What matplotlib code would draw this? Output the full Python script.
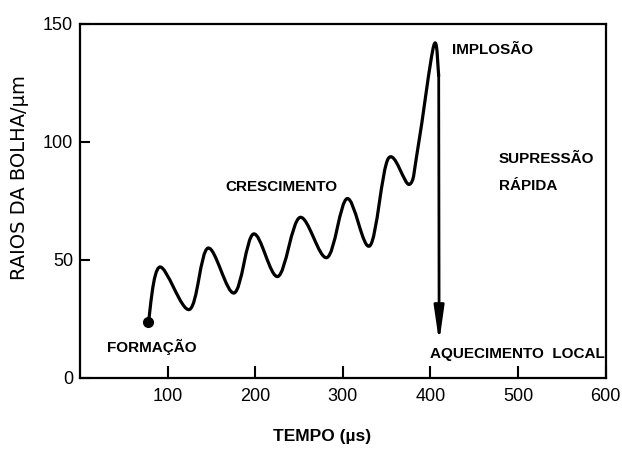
import numpy as np
import matplotlib
matplotlib.use("Agg")
import matplotlib.pyplot as plt
from matplotlib.path import Path
from matplotlib.patches import PathPatch

# Data (time in µs, radius in µm)
tempo = [78, 91, 125, 146, 176, 198, 226, 251, 282, 305, 331, 352, 376,
         386, 404, 409.5]
raio = [23.5, 47, 29, 55, 36, 61, 43, 68, 51, 76, 56, 93, 82,
        98, 141, 128]
queda_fim = 15          # arrow tip of the collapse
xticks = [100, 200, 300, 400, 500, 600]
yticks = [0, 50, 100, 150]

LAB = ["Liberation Sans", "DejaVu Sans"]

fig = plt.figure(figsize=(6.22, 4.51), dpi=100)
ax = fig.add_axes([0.1286, 0.162, 0.845, 0.785])
ax.set_xlim(0, 600)
ax.set_ylim(0, 150)

# smooth curve through the read points (Catmull-Rom rendered as Bezier path)
pts = np.column_stack([tempo, raio]).astype(float)
verts = [pts[0]]
codes = [Path.MOVETO]
n = len(pts)
for i in range(n - 1):
    p0 = pts[i - 1] if i > 0 else pts[i]
    p1 = pts[i]
    p2 = pts[i + 1]
    p3 = pts[i + 2] if i + 2 < n else pts[i + 1]
    verts += [p1 + (p2 - p0) / 6.0, p2 - (p3 - p1) / 6.0, p2]
    codes += [Path.CURVE4] * 3
ax.add_patch(PathPatch(Path(verts, codes), fill=False, lw=2.3, color="black",
                       capstyle="round", joinstyle="round"))

ax.plot([tempo[0]], [raio[0]], "o", color="black", markersize=7)

ax.annotate("", xy=(tempo[-1] + 0.5, queda_fim), xytext=(tempo[-1], raio[-1]),
            arrowprops=dict(arrowstyle="-|>,head_length=2.1,head_width=0.3",
                            mutation_scale=10, lw=2.0, color="black",
                            shrinkA=0, shrinkB=0))

# annotations
kw = dict(family=LAB, fontsize=11, fontweight="bold", va="center")
ax.text(425, 139, "IMPLOSÃO", ha="left", **kw)
ax.text(478, 87, "SUPRESSÃO\nRÁPIDA", ha="left", linespacing=2.25, **kw)
ax.text(230, 81, "CRESCIMENTO", ha="center", **kw)
ax.text(82, 13, "FORMAÇÃO", ha="center", **kw)
ax.text(400, 10, "AQUECIMENTO  LOCAL", ha="left", **kw)

# axes styling
for s in ax.spines.values():
    s.set_linewidth(1.6)
ax.set_xticks(xticks)
ax.set_yticks(yticks)
ax.set_xticklabels([str(t) for t in xticks])
ax.set_yticklabels([str(t) for t in yticks])
ax.tick_params(axis="x", direction="in", length=9, width=1.5, pad=7,
               labelsize=13)
ax.tick_params(axis="y", direction="in", length=7, width=1.5, pad=5,
               labelsize=13)
for lab in ax.get_xticklabels() + ax.get_yticklabels():
    lab.set_family(LAB)

fig.text(322 / 622, 1 - 437 / 451, "TEMPO (µs)", family=LAB, fontsize=12.5,
         fontweight="bold", ha="center", va="center")
fig.text(20 / 622, 1 - 178 / 451, "RAIOS DA BOLHA/µm", family="DejaVu Sans",
         fontsize=14, rotation=90, ha="center", va="center")

fig.savefig("out.png", dpi=100)
